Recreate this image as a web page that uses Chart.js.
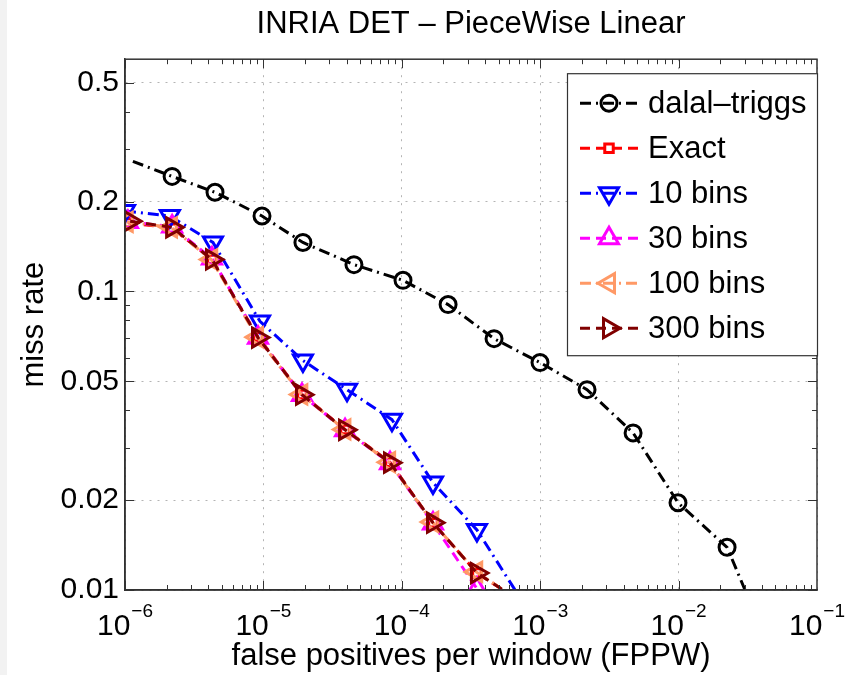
<!DOCTYPE html>
<html>
<head>
<meta charset="utf-8">
<title>INRIA DET - PieceWise Linear</title>
<script src="https://cdn.jsdelivr.net/npm/chart.js@4.4.1/dist/chart.umd.min.js"></script>
<style>
  html, body { margin: 0; padding: 0; background: #ffffff; }
  #wrap { width: 857px; height: 675px; }
</style>
</head>
<body>
<div id="wrap"><canvas id="det" width="857" height="675"></canvas></div>
<script>
// ---- Data ----

const xTicks = [1e-6, 1e-5, 1e-4, 1e-3, 1e-2, 1e-1];
const xTickExponents = ['\u22126', '\u22125', '\u22124', '\u22123', '\u22122', '\u22121'];
const yTicks = [0.01, 0.02, 0.05, 0.1, 0.2, 0.5];
const yTickLabels = ['0.01', '0.02', '0.05', '0.1', '0.2', '0.5'];

const seriesLabels = ['dalal\u2013triggs', 'Exact', '10 bins', '30 bins', '100 bins', '300 bins'];

const dalalFppw = [1.14e-6, 2.19e-6, 4.47e-6, 9.77e-6, 1.93e-5, 4.51e-5, 1.02e-4, 2.16e-4, 4.64e-4, 9.97e-4, 2.18e-3, 4.69e-3, 9.9e-3, 2.24e-2, 3.02e-2];
const dalalMiss = [0.273, 0.243, 0.215, 0.179, 0.146, 0.123, 0.109, 0.0904, 0.0695, 0.0578, 0.0469, 0.0336, 0.0196, 0.0139, 0.0100];

const exactFppw = [1.05e-6, 2.19e-6, 4.25e-6, 9.14e-6, 1.9e-5, 3.89e-5, 8.22e-5, 1.68e-4, 3.49e-4, 5.4e-4];
const exactMiss = [0.170, 0.163, 0.128, 0.0705, 0.0452, 0.0345, 0.0268, 0.0168, 0.0114, 0.0100];

const bins10Fppw = [1.0e-6, 2.11e-6, 4.32e-6, 9.45e-6, 1.93e-5, 4.02e-5, 8.49e-5, 1.68e-4, 3.49e-4, 6.58e-4];
const bins10Miss = [0.186, 0.179, 0.146, 0.0794, 0.0587, 0.0469, 0.0372, 0.0229, 0.0159, 0.0100];

const bins30Fppw = [1.05e-6, 2.19e-6, 4.25e-6, 9.14e-6, 1.9e-5, 3.89e-5, 8.22e-5, 1.68e-4, 3.49e-4];
const bins30Miss = [0.171, 0.165, 0.129, 0.0700, 0.0450, 0.0343, 0.0266, 0.0167, 0.0101];

const bins100Fppw = [1.03e-6, 2.15e-6, 4.2e-6, 9.0e-6, 1.88e-5, 3.85e-5, 8.1e-5, 1.66e-4, 3.45e-4, 5.4e-4];
const bins100Miss = [0.171, 0.164, 0.128, 0.0703, 0.0452, 0.0345, 0.0268, 0.0169, 0.0115, 0.0100];

const bins300Fppw = [1.09e-6, 2.19e-6, 4.25e-6, 9.14e-6, 1.9e-5, 3.89e-5, 8.22e-5, 1.68e-4, 3.49e-4, 5.4e-4];
const bins300Miss = [0.172, 0.164, 0.128, 0.0701, 0.0451, 0.0344, 0.0267, 0.0168, 0.0114, 0.0100];

// ---- Styles ----

const FONT = "'Liberation Sans', Arial, Helvetica, sans-serif";
const DASH = [10, 6];
const DASHDOT = [11, 5, 2, 5];
const LINE_W = 3;

const styles = [
  { color: '#000000', dash: DASHDOT, pointStyle: 'circle',   rotation: 0,   radius: 8,  bareFirst: true,  bareLast: true },
  { color: '#ff0000', dash: DASH,    pointStyle: 'rect',     rotation: 0,   radius: 6,  bareFirst: false, bareLast: true },
  { color: '#0000ff', dash: DASHDOT, pointStyle: 'triangle', rotation: 180, radius: 11, bareFirst: false, bareLast: true },
  { color: '#ff00ff', dash: DASH,    pointStyle: 'triangle', rotation: 0,   radius: 11, bareFirst: false, bareLast: false },
  { color: '#ff9966', dash: DASHDOT, pointStyle: 'triangle', rotation: 270, radius: 11, bareFirst: false, bareLast: true },
  { color: '#800000', dash: DASH,    pointStyle: 'triangle', rotation: 90,  radius: 11, bareFirst: false, bareLast: true }
];

const seriesData = [
  [dalalFppw, dalalMiss],
  [exactFppw, exactMiss],
  [bins10Fppw, bins10Miss],
  [bins30Fppw, bins30Miss],
  [bins100Fppw, bins100Miss],
  [bins300Fppw, bins300Miss]
];

function toPoints(xs, ys) {
  return xs.map((x, i) => ({ x, y: ys[i] }));
}

const datasets = seriesData.map(([xs, ys], i) => {
  const s = styles[i];
  return {
    label: seriesLabels[i],
    data: toPoints(xs, ys),
    borderColor: s.color,
    backgroundColor: 'rgba(0,0,0,0)',
    borderWidth: LINE_W,
    borderDash: s.dash,
    pointStyle: s.pointStyle,
    pointRotation: s.rotation,
    pointRadius: (c) => {
      const last = c.dataset.data.length - 1;
      if ((s.bareFirst && c.dataIndex === 0) || (s.bareLast && c.dataIndex === last)) return 0;
      return s.radius;
    },
    pointHoverRadius: s.radius,
    pointBorderColor: s.color,
    pointBackgroundColor: 'rgba(0,0,0,0)',
    pointBorderWidth: LINE_W,
    tension: 0,
    fill: false,
    order: seriesData.length - i
  };
});

// ---- Plugin: MATLAB-like box, inner ticks, exponent labels, legend ----

const matlabAxes = {
  id: 'matlabAxes',
  beforeDraw(chart) {
    const ctx = chart.ctx;
    ctx.save();
    ctx.fillStyle = '#f2f2f2';
    ctx.fillRect(0, 0, 7, chart.height);
    ctx.restore();
  },
  afterDatasetsDraw(chart) {
    const { ctx, chartArea: a } = chart;
    const xs = chart.scales.x, ys = chart.scales.y;
    ctx.save();
    ctx.strokeStyle = '#333333';
    ctx.lineWidth = 1;
    ctx.setLineDash([]);

    // minor + major ticks on x (bottom and top)
    for (let d = -6; d < -1; d++) {
      for (let k = 1; k <= 9; k++) {
        const v = k * Math.pow(10, d);
        const px = Math.round(xs.getPixelForValue(v)) + 0.5;
        const len = k === 1 ? 9 : 5;
        ctx.beginPath();
        ctx.moveTo(px, a.bottom); ctx.lineTo(px, a.bottom - len);
        ctx.moveTo(px, a.top); ctx.lineTo(px, a.top + len);
        ctx.stroke();
      }
    }
    // ticks on y (left and right)
    const yMinor = [0.03, 0.04, 0.06, 0.07, 0.08, 0.09, 0.3, 0.4];
    yTicks.concat(yMinor).forEach((v) => {
      const py = Math.round(ys.getPixelForValue(v)) + 0.5;
      const len = yTicks.includes(v) ? 9 : 5;
      ctx.beginPath();
      ctx.moveTo(a.left, py); ctx.lineTo(a.left + len, py);
      ctx.moveTo(a.right, py); ctx.lineTo(a.right - len, py);
      ctx.stroke();
    });

    // box
    ctx.lineWidth = 1.5;
    ctx.strokeRect(a.left, a.top, a.right - a.left, a.bottom - a.top);
    ctx.restore();
  },
  afterDraw(chart) {
    const { ctx, chartArea: a } = chart;
    const xs = chart.scales.x;
    ctx.save();

    // x tick labels: 10 with superscript exponent
    ctx.fillStyle = '#000000';
    ctx.textBaseline = 'alphabetic';
    ctx.textAlign = 'left';
    xTicks.forEach((v, i) => {
      const px = xs.getPixelForValue(v);
      ctx.font = `30px ${FONT}`;
      const wBase = ctx.measureText('10').width;
      ctx.font = `19px ${FONT}`;
      const wExp = ctx.measureText(xTickExponents[i]).width;
      const x0 = px - (wBase + wExp + 1) / 2;
      ctx.font = `30px ${FONT}`;
      ctx.fillText('10', x0, a.bottom + 45);
      ctx.font = `19px ${FONT}`;
      ctx.fillText(xTickExponents[i], x0 + wBase + 1, a.bottom + 27);
    });

    // legend
    const boxW = 250, boxH = 282;
    const bx = a.right - boxW, by = a.top + 14;
    ctx.fillStyle = '#ffffff';
    ctx.fillRect(bx, by, boxW, boxH);
    ctx.strokeStyle = '#333333';
    ctx.lineWidth = 1.2;
    ctx.strokeRect(bx + 0.5, by + 0.5, boxW, boxH);

    chart.data.datasets.forEach((ds, i) => {
      const s = styles[i];
      const y = by + 30 + i * 45;
      ctx.setLineDash(s.dash);
      ctx.lineDashOffset = 0;
      ctx.strokeStyle = s.color;
      ctx.lineWidth = LINE_W;
      ctx.beginPath();
      ctx.moveTo(bx + 13, y);
      ctx.lineTo(bx + 71, y);
      ctx.stroke();
      ctx.setLineDash([]);
      ctx.fillStyle = 'rgba(0,0,0,0)';
      Chart.helpers.drawPoint(ctx, {
        pointStyle: s.pointStyle,
        rotation: s.rotation,
        radius: s.radius,
        borderWidth: LINE_W
      }, bx + 42, y);
      ctx.fillStyle = '#000000';
      ctx.font = `31px ${FONT}`;
      ctx.textBaseline = 'middle';
      ctx.fillText(seriesLabels[i], bx + 81, y + 1);
    });
    ctx.restore();
  }
};

// ---- Chart ----

Chart.defaults.font.family = FONT;
Chart.defaults.color = '#000000';

new Chart(document.getElementById('det'), {
  type: 'line',
  data: { datasets },
  plugins: [matlabAxes],
  options: {
    responsive: false,
    animation: false,
    layout: { padding: { left: 0, right: 40, top: 0, bottom: 0 } },
    plugins: {
      legend: { display: false },
      tooltip: { enabled: false },
      title: {
        display: true,
        text: 'INRIA DET \u2013 PieceWise Linear',
        fullSize: false,
        color: '#000000',
        font: { size: 31, weight: 'normal' },
        padding: { top: 6, bottom: 16 }
      }
    },
    scales: {
      x: {
        type: 'logarithmic',
        min: 1e-6,
        max: 1e-1,
        afterBuildTicks: (scale) => { scale.ticks = xTicks.map((v) => ({ value: v })); },
        afterFit: (scale) => { scale.height = 85; },
        ticks: { display: false },
        grid: { color: '#b4b4b4', lineWidth: 1, drawTicks: false },
        border: { display: true, color: '#333333', width: 1.5, dash: [2, 6] },
        title: {
          display: true,
          text: 'false positives per window (FPPW)',
          color: '#000000',
          font: { size: 31 },
          padding: { top: 0, bottom: 0 }
        }
      },
      y: {
        type: 'logarithmic',
        min: 0.01,
        max: 0.6,
        afterBuildTicks: (scale) => { scale.ticks = yTicks.map((v) => ({ value: v })); },
        afterFit: (scale) => { scale.width = 125; },
        ticks: {
          padding: 6,
          color: '#000000',
          font: { size: 30 },
          callback: (val) => {
            const i = yTicks.findIndex((t) => Math.abs(t - val) / t < 1e-6);
            return i >= 0 ? yTickLabels[i] : '';
          }
        },
        grid: { color: '#b4b4b4', lineWidth: 1, drawTicks: false },
        border: { display: true, color: '#333333', width: 1.5, dash: [2, 6] },
        title: {
          display: true,
          text: 'miss rate',
          color: '#000000',
          font: { size: 31 },
          padding: { top: 16, bottom: 0 }
        }
      }
    }
  }
});
</script>
</body>
</html>
